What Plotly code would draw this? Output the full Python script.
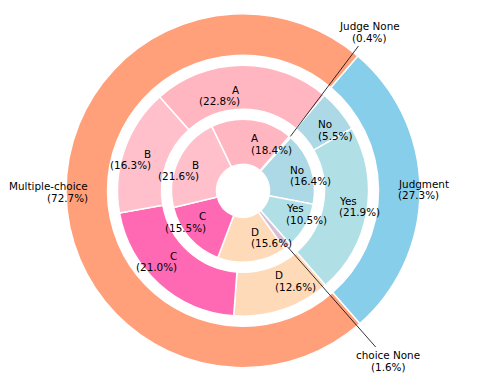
import math
import plotly.graph_objects as go

# ---------------- data (listed clockwise from the upper-right boundary) ----------------
outer_labels = ["Judgment", "Multiple-choice"]
outer_values = [27.3, 72.7]
outer_colors = ["#87CEEB", "#FFA07A"]

middle_labels = ["No", "Yes", "D", "C", "B", "A"]
middle_values = [5.5, 21.9, 12.6, 21.0, 16.3, 22.8]
middle_colors = ["#ADD8E6", "#B0E0E6", "#FFDAB9", "#FF69B4", "#FFC0CB", "#FFB6C1"]

inner_labels = ["Judge None", "No", "Yes", "choice None", "D", "C", "B", "A"]
inner_values = [0.4, 16.4, 10.5, 1.6, 15.6, 15.5, 21.6, 18.4]
inner_colors = ["#D3D3D3", "#ADD8E6", "#B0E0E6", "#D8BFD8", "#FFDAB9", "#FF69B4", "#FFC0CB", "#FFB6C1"]

callout_labels = ["Judge None", "choice None"]

# ---------------- layout geometry ----------------
PAGE_OFF = 8                   # default body margin of the html page
W, H = 478 - PAGE_OFF, 390 - PAGE_OFF
CX, CY = 243.0, 190.7          # pie centre in window pixels
ROT = 40.4                     # clockwise degrees from 12 o'clock of first boundary
FONT = "DejaVu Sans"
FS = 10.4
LINE_GAP = 5.7                 # half line spacing in px

rings = [  # (outer radius, inner radius, label radius)
    (177.0, 135.5, 153.0),
    (125.5, 81.5, 95.0),
    (71.5, 26.5, 47.0),
]
datasets = [
    (outer_labels, outer_values, outer_colors),
    (middle_labels, middle_values, middle_colors),
    (inner_labels, inner_values, inner_colors),
]


def px_to_paper(x, y):
    return (x - PAGE_OFF) / W, 1 - (y - PAGE_OFF) / H


def mid_angles(values):
    total = sum(values)
    out, cum = [], 0.0
    for v in values:
        theta_cw = ROT + (cum + v / 2) / total * 360.0
        out.append(math.radians(90 - theta_cw))
        cum += v
    return out


fig = go.Figure()
annotations = []
shapes = []

for (ro, ri, rl), (labels, values, colors) in zip(rings, datasets):
    x0, y0 = px_to_paper(CX - ro, CY + ro)
    x1, y1 = px_to_paper(CX + ro, CY - ro)
    fig.add_trace(go.Pie(
        labels=labels, values=values, sort=False,
        direction="clockwise", rotation=ROT,
        hole=ri / ro,
        domain=dict(x=[x0, x1], y=[y0, y1]),
        marker=dict(colors=colors, line=dict(color="white", width=1.5)),
        textinfo="none", hoverinfo="label+percent", showlegend=False,
    ))
    total = sum(values)
    for lab, val, ang in zip(labels, values, mid_angles(values)):
        pct = f"({val / total * 100:.1f}%)"
        if lab in callout_labels:
            continue
        px = CX + rl * math.cos(ang)
        py = CY - rl * math.sin(ang)
        side = "left" if math.cos(ang) > 0 else "right"
        ax, ay = px_to_paper(px, py)
        for txt, shift in ((lab, LINE_GAP), (pct, -LINE_GAP)):
            annotations.append(dict(
                x=ax, y=ay, xref="paper", yref="paper", text=txt,
                showarrow=False, xanchor=side, yanchor="middle", align=side,
                yshift=shift, font=dict(family=FONT, size=FS, color="black"),
            ))

# callouts for the tiny inner slices
callout_pos = {"Judge None": (369.0, 32.0), "choice None": (388.0, 361.0)}
inner_ang = dict(zip(inner_labels, mid_angles(inner_values)))
inner_total = sum(inner_values)
for lab in callout_labels:
    val = inner_values[inner_labels.index(lab)]
    ang = inner_ang[lab]
    sx = CX + 72.0 * math.cos(ang)
    sy = CY - 72.0 * math.sin(ang)
    tx, ty = callout_pos[lab]
    half_h = 14.0
    t = (abs(ty - sy) - half_h) / abs(ty - sy)
    ex, ey = sx + t * (tx - sx), sy + t * (ty - sy)
    p0 = px_to_paper(sx, sy)
    p1 = px_to_paper(ex, ey)
    shapes.append(dict(type="line", xref="paper", yref="paper",
                       x0=p0[0], y0=p0[1], x1=p1[0], y1=p1[1],
                       line=dict(color="black", width=0.8)))
    lx, ly = px_to_paper(tx, ty)
    for txt, shift in ((lab, LINE_GAP), (f"({val / inner_total * 100:.1f}%)", -LINE_GAP)):
        annotations.append(dict(
            x=lx, y=ly, xref="paper", yref="paper", text=txt,
            showarrow=False, xanchor="center", yanchor="middle", align="center",
            yshift=shift, font=dict(family=FONT, size=FS, color="black"),
        ))

fig.update_layout(
    width=W, height=H,
    margin=dict(l=0, r=0, t=0, b=0),
    paper_bgcolor="white", plot_bgcolor="white",
    annotations=annotations, shapes=shapes,
    font=dict(family=FONT, size=FS, color="black"),
)

fig.write_html("out.html")
